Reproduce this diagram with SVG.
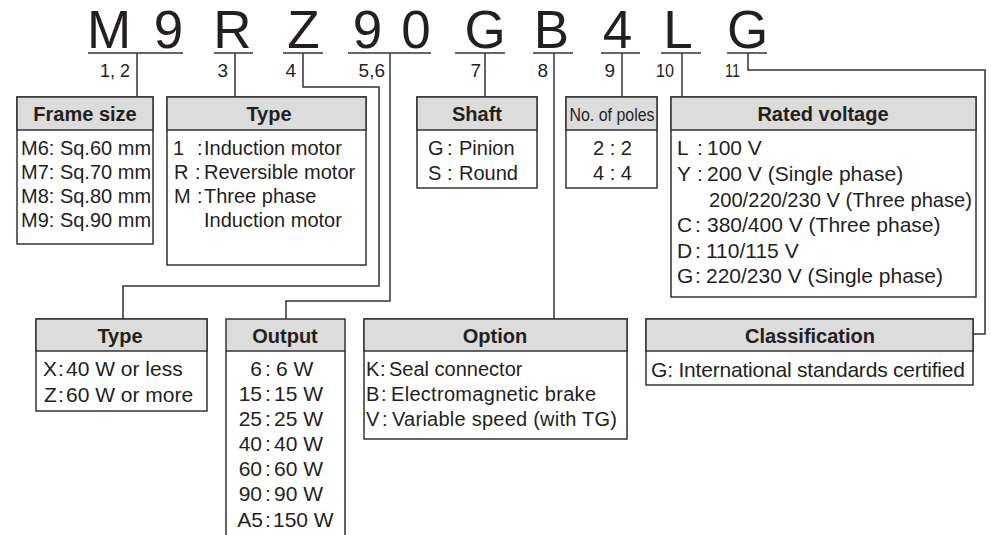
<svg xmlns="http://www.w3.org/2000/svg" width="991" height="535" viewBox="0 0 991 535">
<style>
text{font-family:"Liberation Sans",Arial,Helvetica,sans-serif;fill:#231f20}
.big{font-size:53px;text-anchor:middle}
.num{font-size:19px;text-anchor:end}
.h{font-size:20px;font-weight:bold;text-anchor:middle}
.t{font-size:20px}
.t2{font-size:21px}
.m{text-anchor:middle}
.e{text-anchor:end}
.hd{fill:#dcdcdc;stroke:#333;stroke-width:1.5}
.bx{fill:#fff;stroke:#333;stroke-width:1.5}
.ln{fill:none;stroke:#333;stroke-width:1.5}
</style>
<rect width="991" height="535" fill="#fff"/>
<g id="code">
<text class="big" x="109" y="48">M</text>
<text class="big" x="168.5" y="48">9</text>
<text class="big" x="232.5" y="48">R</text>
<text class="big" x="303.5" y="48">Z</text>
<text class="big" x="367.5" y="48">9</text>
<text class="big" x="416" y="48">0</text>
<text class="big" x="485" y="48">G</text>
<text class="big" x="551.5" y="48">B</text>
<text class="big" x="617.5" y="48">4</text>
<text class="big" x="678" y="48">L</text>
<text class="big" x="747.5" y="48">G</text>
<path class="ln" d="M88,53H183M214,53H253M283,53H323M348,53H431M455,53H505M533,53H573M601,53H640M661,53H701M727,53H767"/>
<text class="num" x="130" y="77" textLength="30" lengthAdjust="spacingAndGlyphs">1, 2</text>
<text class="num" x="228" y="77">3</text>
<text class="num" x="296" y="77">4</text>
<text class="num" x="385" y="77">5,6</text>
<text class="num" x="481" y="77">7</text>
<text class="num" x="548" y="77">8</text>
<text class="num" x="615" y="77">9</text>
<text class="num" x="674" y="77" textLength="18" lengthAdjust="spacingAndGlyphs">10</text>
<text class="num" x="740" y="77" textLength="15" lengthAdjust="spacingAndGlyphs">11</text>
</g>
<g id="connectors">
<path class="ln" d="M137,53V97"/>
<path class="ln" d="M235,53V97"/>
<path class="ln" d="M303,53V87H379V286H123V319"/>
<path class="ln" d="M390,53V301H286V319"/>
<path class="ln" d="M485,53V97"/>
<path class="ln" d="M554,53V319"/>
<path class="ln" d="M622,53V97"/>
<path class="ln" d="M682,53V97"/>
<path class="ln" d="M748,53V70H985V334H973"/>
</g>
<g id="frame-size">
<rect class="bx" x="17" y="97" width="136" height="147"/>
<rect class="hd" x="17" y="97" width="136" height="33"/>
<text class="h" x="85" y="121">Frame size</text>
<text class="t" x="21" y="155">M6: Sq.60 mm</text>
<text class="t" x="21" y="179">M7: Sq.70 mm</text>
<text class="t" x="21" y="203">M8: Sq.80 mm</text>
<text class="t" x="21" y="227">M9: Sq.90 mm</text>
</g>
<g id="type-motor">
<rect class="bx" x="167" y="97" width="199" height="168"/>
<rect class="hd" x="167" y="97" width="199" height="33"/>
<text class="h" x="269" y="121">Type</text>
<text class="t" x="173" y="155">1</text><text class="t" x="197" y="155">:</text><text class="t" x="204" y="155">Induction motor</text>
<text class="t" x="174" y="179">R</text><text class="t" x="195" y="179">:</text><text class="t" x="204" y="179">Reversible motor</text>
<text class="t" x="174" y="203">M</text><text class="t" x="197" y="203">:</text><text class="t" x="204" y="203">Three phase</text>
<text class="t" x="204" y="227">Induction motor</text>
</g>
<g id="shaft">
<rect class="bx" x="417" y="97" width="120" height="91"/>
<rect class="hd" x="417" y="97" width="120" height="33"/>
<text class="h" x="477" y="121">Shaft</text>
<text class="t" x="428" y="155">G</text><text class="t" x="447" y="155">:</text><text class="t" x="459" y="155">Pinion</text>
<text class="t" x="428" y="180">S</text><text class="t" x="447" y="180">:</text><text class="t" x="459" y="180">Round</text>
</g>
<g id="poles">
<rect class="bx" x="566" y="97" width="91" height="91"/>
<rect class="hd" x="566" y="97" width="91" height="33"/>
<text class="m" x="612" y="121" font-size="19" textLength="85" lengthAdjust="spacingAndGlyphs">No. of poles</text>
<text class="t m" x="612.5" y="155">2 : 2</text>
<text class="t m" x="612.5" y="180">4 : 4</text>
</g>
<g id="rated-voltage">
<rect class="bx" x="671" y="97" width="305" height="200"/>
<rect class="hd" x="671" y="97" width="305" height="33"/>
<text class="h" x="823" y="121">Rated voltage</text>
<text class="t2" x="677" y="155">L</text><text class="t2" x="697" y="155">:</text><text class="t2" x="707" y="155">100 V</text>
<text class="t2" x="677" y="181">Y</text><text class="t2" x="697" y="181">:</text><text class="t2" x="707" y="181">200 V (Single phase)</text>
<text class="t2" x="709" y="207" textLength="263" lengthAdjust="spacingAndGlyphs">200/220/230 V (Three phase)</text>
<text class="t2" x="677" y="232">C</text><text class="t2" x="695" y="232">:</text><text class="t2" x="707" y="232">380/400 V (Three phase)</text>
<text class="t2" x="677" y="258">D</text><text class="t2" x="695" y="258">:</text><text class="t2" x="706" y="258">110/115 V</text>
<text class="t2" x="677" y="283">G</text><text class="t2" x="695" y="283">:</text><text class="t2" x="706" y="283">220/230 V (Single phase)</text>
</g>
<g id="type-output">
<rect class="bx" x="36" y="319" width="171" height="92"/>
<rect class="hd" x="36" y="319" width="171" height="32"/>
<text class="h" x="120" y="343">Type</text>
<text class="t2" x="43" y="376">X</text><text class="t2" x="58" y="376">:</text><text class="t2" x="66" y="376">40 W or less</text>
<text class="t2" x="44" y="402">Z</text><text class="t2" x="58" y="402">:</text><text class="t2" x="66" y="402">60 W or more</text>
</g>
<g id="output">
<path class="ln" d="M226,351V535M345,351V535"/>
<rect class="hd" x="226" y="319" width="119" height="32"/>
<text class="h" x="285" y="343">Output</text>
<text class="t2 e" x="262" y="376">6</text><text class="t2" x="265" y="376">:</text><text class="t2" x="276" y="376">6 W</text>
<text class="t2 e" x="262" y="401">15</text><text class="t2" x="265" y="401">:</text><text class="t2" x="274" y="401">15 W</text>
<text class="t2 e" x="262" y="426">25</text><text class="t2" x="265" y="426">:</text><text class="t2" x="274" y="426">25 W</text>
<text class="t2 e" x="262" y="451">40</text><text class="t2" x="265" y="451">:</text><text class="t2" x="274" y="451">40 W</text>
<text class="t2 e" x="262" y="476">60</text><text class="t2" x="265" y="476">:</text><text class="t2" x="274" y="476">60 W</text>
<text class="t2 e" x="262" y="501">90</text><text class="t2" x="265" y="501">:</text><text class="t2" x="274" y="501">90 W</text>
<text class="t2 e" x="263" y="527">A5</text><text class="t2" x="265" y="527">:</text><text class="t2" x="273" y="527">150 W</text>
</g>
<g id="option">
<rect class="bx" x="364" y="319" width="263" height="120"/>
<rect class="hd" x="364" y="319" width="263" height="32"/>
<text class="h" x="495" y="343">Option</text>
<text class="t" x="366" y="376">K</text><text class="t" x="380" y="376">:</text><text class="t" x="389" y="376">Seal connector</text>
<text class="t" x="366" y="401">B</text><text class="t" x="381" y="401">:</text><text class="t" x="391" y="401" textLength="205">Electromagnetic brake</text>
<text class="t" x="366" y="426">V</text><text class="t" x="382" y="426">:</text><text class="t" x="392" y="426" textLength="225">Variable speed (with TG)</text>
</g>
<g id="classification">
<rect class="bx" x="646" y="319" width="327" height="66"/>
<rect class="hd" x="646" y="319" width="327" height="32"/>
<text class="h" x="810" y="343">Classification</text>
<text class="t2" x="651" y="377" textLength="314">G: International standards certified</text>
</g>
</svg>
